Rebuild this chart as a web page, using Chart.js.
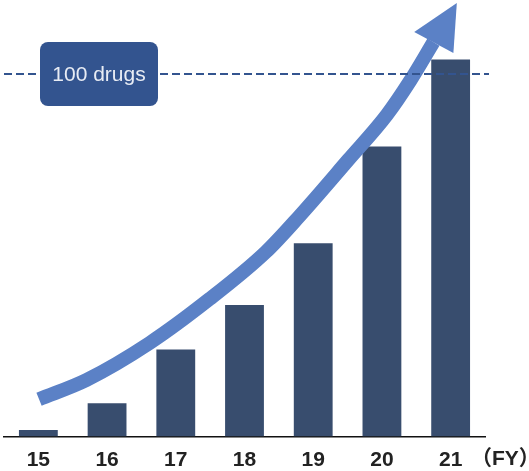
<!DOCTYPE html>
<html>
<head>
<meta charset="utf-8">
<script src="https://cdn.jsdelivr.net/npm/chart.js@4"></script>
<style>
  html, body { margin: 0; padding: 0; background: #fff; }
  #wrap { width: 529px; height: 471px; position: relative; }
</style>
</head>
<body>
<div id="wrap"><canvas id="drugChart"></canvas></div>
<script>
// Datos del gráfico
const years = ['15', '16', '17', '18', '19', '20', '21'];
const drugCounts = [1.8, 9.2, 24, 36.3, 53.3, 80, 104];
const targetValue = 100;
const targetLabel = '100 drugs';
const unitLabel = '（FY）';
const yMax = 120;

// Trazo de la flecha en unidades de datos (x = índice de categoría, y = nº de fármacos)
const arrowX = [0.01, 0.70, 1.62, 2.49, 3.31, 3.79, 4.51, 5.07, 5.41, 5.75];
const arrowY = [10.3, 15.6, 25.8, 37.9, 50.9, 60.6, 76.3, 88.7, 98.1, 108.8];
const arrowHeadX = [5.47, 6.09, 6.04];
const arrowHeadY = [111.6, 119.6, 105.8];

const barColor = '#384d6e';
const arrowColor = '#5b81c6';
const targetColor = '#33548f';

const arrowPoints = arrowX.map((x, i) => ({ x: x, y: arrowY[i] }));

const overlayPlugin = {
    id: 'overlay',
    afterDatasetsDraw(chart) {
        const ctx = chart.ctx;
        const xa = chart.scales.xa;
        const y = chart.scales.y;
        const area = chart.chartArea;

        // punta de la flecha
        ctx.save();
        ctx.fillStyle = arrowColor;
        ctx.beginPath();
        arrowHeadX.forEach((hx, i) => {
            const px = xa.getPixelForValue(hx);
            const py = y.getPixelForValue(arrowHeadY[i]);
            if (i === 0) ctx.moveTo(px, py); else ctx.lineTo(px, py);
        });
        ctx.closePath();
        ctx.fill();

        // línea discontinua de 100
        const ty = y.getPixelForValue(targetValue);
        ctx.strokeStyle = targetColor;
        ctx.lineWidth = 2;
        ctx.setLineDash([8, 4]);
        ctx.beginPath();
        ctx.moveTo(area.left, ty);
        ctx.lineTo(area.right + 4, ty);
        ctx.stroke();
        ctx.setLineDash([]);

        // recuadro "100 drugs"
        const bx = 40, bw = 118, bh = 64;
        const by = ty - 32;
        ctx.fillStyle = targetColor;
        ctx.beginPath();
        ctx.roundRect(bx, by, bw, bh, 8);
        ctx.fill();
        ctx.fillStyle = '#e8ecf4';
        ctx.font = '21px "Liberation Sans", Arial, sans-serif';
        ctx.textAlign = 'center';
        ctx.textBaseline = 'middle';
        ctx.fillText(targetLabel, bx + bw / 2, ty + 1);

        // unidad (FY)
        ctx.fillStyle = '#222';
        ctx.font = 'bold 21px "Liberation Sans", "Noto Sans CJK JP", sans-serif';
        ctx.textAlign = 'left';
        ctx.fillText(unitLabel, area.right - 14, 459);
        ctx.restore();
    }
};

const ctx = document.getElementById('drugChart');
new Chart(ctx, {
    type: 'bar',
    data: {
        labels: years,
        datasets: [{
            type: 'line',
            data: arrowPoints,
            xAxisID: 'xa',
            yAxisID: 'y',
            borderColor: arrowColor,
            borderWidth: 14,
            borderCapStyle: 'butt',
            pointRadius: 0,
            cubicInterpolationMode: 'monotone',
            fill: false,
            order: 0
        }, {
            type: 'bar',
            data: drugCounts,
            xAxisID: 'x',
            yAxisID: 'y',
            backgroundColor: barColor,
            borderWidth: 0,
            grouped: false,
            barPercentage: 0.565,
            categoryPercentage: 1,
            order: 1
        }]
    },
    options: {
        responsive: true,
        maintainAspectRatio: false,
        animation: false,
        layout: { padding: { left: 4, right: 44, top: 1.5, bottom: 0 } },
        plugins: {
            legend: { display: false },
            tooltip: { enabled: false }
        },
        scales: {
            x: {
                type: 'category',
                grid: { display: false, drawTicks: false },
                border: { display: true, color: '#111', width: 1.5 },
                ticks: {
                    color: '#222',
                    padding: 11,
                    font: { size: 21, weight: 'bold', family: '"Liberation Sans", Arial, sans-serif' }
                },
                afterFit(scale) { scale.height = 34.5; }
            },
            xa: {
                type: 'linear',
                display: false,
                offset: false,
                min: -0.5,
                max: 6.5
            },
            y: {
                display: false,
                min: 0,
                max: yMax
            }
        }
    },
    plugins: [overlayPlugin]
});
</script>
</body>
</html>
